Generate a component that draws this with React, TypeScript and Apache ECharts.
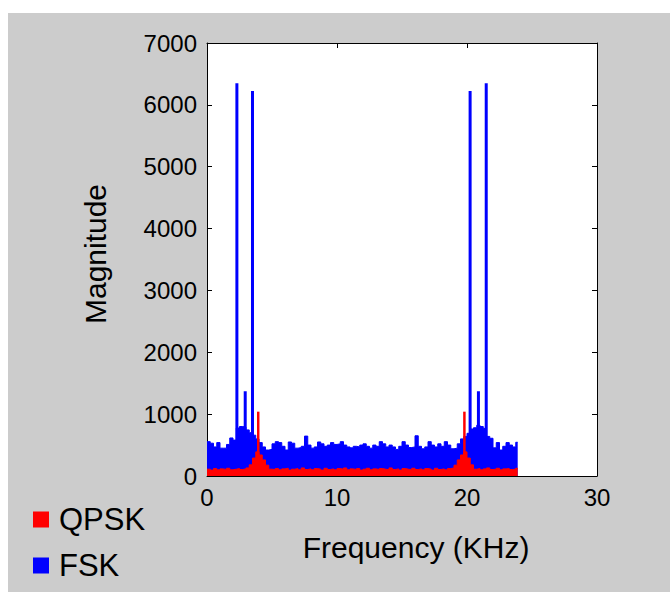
import React, { useEffect, useRef } from "react";
import * as echarts from "echarts";

// Spectrum bins (0.25 kHz wide), magnitude
const binWidthKHz = 0.25;
const lastEdgeKHz = 23.9;

const fskMag = [
  555, 530, 470, 540, 450, 450, 510, 615, 580, 775,
  800, 790, 745, 700, 660, 600, 540, 470, 420, 430,
  520, 555, 540, 480, 420, 550, 530, 450, 460, 480,
  645, 500, 450, 470, 550, 520, 480, 500, 540, 510,
  520, 555, 500, 470, 455, 480, 470, 500, 520, 480,
  450, 500, 480, 555, 520, 470, 500, 470, 430, 480,
  555, 500, 460, 470, 650, 480, 440, 470, 555, 500,
  470, 520, 480, 555, 500, 440, 450, 520, 600, 640,
  690, 760, 780, 820, 800, 770, 640, 610, 455, 540,
  420, 480, 540, 500, 470, 545,
];

const qpskMag = [
  110, 95, 120, 100, 115, 105, 125, 100, 110, 120, 105, 115, 130,
  180, 290, 390, 340, 260, 175, 110,
  105, 120, 100, 115, 125, 95, 110, 120, 100, 130,
  105, 115, 100, 120, 110, 95, 125, 105, 115, 100,
  120, 110, 130, 100, 115, 105, 120, 95, 110, 125,
  100, 115, 105, 120, 110, 100, 130, 105, 115, 95,
  120, 110, 100, 125, 105, 115, 100, 120, 110, 95,
  125, 105, 115, 100, 120, 130,
  175, 260, 340, 390, 290, 180, 110,
  120, 100, 115, 130, 105, 110, 125, 100, 115, 120, 105, 110, 125,
];

// Narrow spectral lines
const fskPeakFreq = [2.28, 2.92, 3.48, 20.22, 20.86, 21.46];
const fskPeakMag = [6350, 1370, 6225, 6225, 1370, 6350];
const qpskPeakFreq = [3.94, 19.8];
const qpskPeakMag = [1040, 1040];

const xTicks = [0, 10, 20, 30];
const yTicks = [0, 1000, 2000, 3000, 4000, 5000, 6000, 7000];

const FONT = '"Liberation Sans", Arial, Helvetica, sans-serif';

function stepData(vals: number[]) {
  const d = vals.map((v, i) => [i * binWidthKHz, v]);
  d.push([lastEdgeKHz, vals[vals.length - 1]]);
  return d;
}

export default function App() {
  const ref = useRef<HTMLDivElement>(null);
  useEffect(() => {
    if (!ref.current) return;
    const chart = echarts.init(ref.current, null, { renderer: "svg" });
    const axisCommon = {
      axisLine: { show: true, onZero: false, lineStyle: { color: "#000", width: 1 } },
      axisTick: { show: true, inside: true, length: 5, lineStyle: { color: "#000" } },
      splitLine: { show: false },
    };
    const fmt = (v: number) => String(v);
    chart.setOption({
      animation: false,
      backgroundColor: "transparent",
      grid: {
        left: 207,
        top: 43,
        right: 73,
        bottom: 124,
        show: true,
        backgroundColor: "#fff",
        borderWidth: 0,
      },
      legend: {
        orient: "vertical",
        left: 28,
        top: 499,
        icon: "rect",
        itemWidth: 16,
        itemHeight: 16,
        itemGap: 15,
        textStyle: { fontSize: 31, fontFamily: FONT, color: "#000", padding: [0, 0, 0, 5] },
        data: ["QPSK", "FSK"],
      },
      xAxis: [
        {
          type: "value",
          min: xTicks[0],
          max: xTicks[xTicks.length - 1],
          interval: 10,
          position: "bottom",
          ...axisCommon,
          axisLabel: { fontSize: 24, fontFamily: FONT, color: "#000", margin: 9, formatter: fmt },
        },
        {
          type: "value",
          min: xTicks[0],
          max: xTicks[xTicks.length - 1],
          interval: 10,
          position: "top",
          ...axisCommon,
          axisLabel: { show: false },
        },
      ],
      yAxis: [
        {
          type: "value",
          min: yTicks[0],
          max: yTicks[yTicks.length - 1],
          interval: 1000,
          position: "left",
          ...axisCommon,
          axisLabel: { fontSize: 24, fontFamily: FONT, color: "#000", margin: 10, formatter: fmt },
        },
        {
          type: "value",
          min: yTicks[0],
          max: yTicks[yTicks.length - 1],
          interval: 1000,
          position: "right",
          ...axisCommon,
          axisLabel: { show: false },
        },
      ],
      series: [
        {
          name: "FSK",
          type: "line",
          step: "end",
          showSymbol: false,
          z: 2,
          data: stepData(fskMag),
          itemStyle: { color: "#0000ff" },
          lineStyle: { color: "#0000ff", width: 1 },
          areaStyle: { color: "#0000ff", opacity: 1 },
        },
        {
          name: "FSK",
          type: "bar",
          barWidth: 3,
          z: 3,
          data: fskPeakFreq.map((f, i) => [f, fskPeakMag[i]]),
          itemStyle: { color: "#0000ff" },
        },
        {
          name: "QPSK",
          type: "line",
          step: "end",
          showSymbol: false,
          z: 4,
          data: stepData(qpskMag),
          itemStyle: { color: "#ff0000" },
          lineStyle: { color: "#ff0000", width: 1 },
          areaStyle: { color: "#ff0000", opacity: 1 },
        },
        {
          name: "QPSK",
          type: "bar",
          barWidth: 2.5,
          barGap: "-100%",
          z: 5,
          data: qpskPeakFreq.map((f, i) => [f, qpskPeakMag[i]]),
          itemStyle: { color: "#ff0000" },
        },
      ],
      graphic: [
        {
          type: "text",
          x: 416,
          y: 547,
          style: {
            text: "Frequency (KHz)",
            font: `30px ${FONT}`,
            fill: "#000",
            textAlign: "center",
            textVerticalAlign: "middle",
          },
        },
        {
          type: "text",
          x: 95,
          y: 254,
          rotation: Math.PI / 2,
          style: {
            text: "Magnitude",
            font: `30px ${FONT}`,
            fill: "#000",
            textAlign: "center",
            textVerticalAlign: "middle",
          },
        },
      ],
    });
    return () => chart.dispose();
  }, []);
  return (
    <div style={{ position: "absolute", left: 0, top: 0, width: 670, height: 600, background: "#fff" }}>
      <div
        style={{ position: "absolute", left: 8, top: 13, width: 662, height: 579, background: "#cccccc" }}
      />
      <div ref={ref} style={{ position: "absolute", left: 0, top: 0, width: 670, height: 600 }} />
    </div>
  );
}
